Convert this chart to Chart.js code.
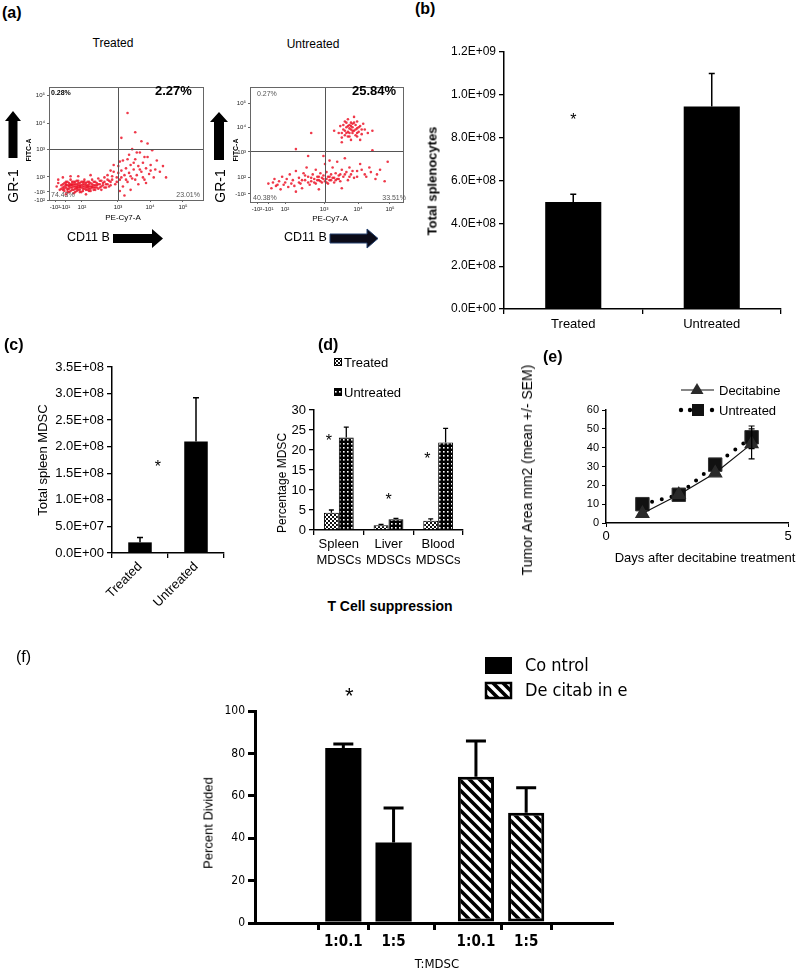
<!DOCTYPE html>
<html><head><meta charset="utf-8">
<script src="https://cdn.jsdelivr.net/npm/chart.js@4.4.0/dist/chart.umd.min.js"></script>
<style>
body{margin:0;background:#fff;}
#root{position:relative;width:800px;height:970px;overflow:hidden;font-family:'Liberation Sans',Arial,sans-serif;color:#000;background:#fff;}
.abs{position:absolute;white-space:nowrap;line-height:1;}
canvas{position:absolute;}
</style></head><body><div id="root">
<svg style="position:absolute;left:0;top:0" width="800" height="260">
  <polygon points="13,111 21,121 17.5,121 17.5,158 8.5,158 8.5,121 5,121" fill="#000"/>
  <polygon points="219,112 228,122 224,122 224,160 214,160 214,122 210,122" fill="#000"/>
  <polygon points="113,234 152,234 152,229 163,238.5 152,248 152,243 113,243" fill="#000"/>
  <polygon points="330,234 367,234 367,229 378,238.5 367,248 367,243 330,243" fill="#0b0b18" stroke="#24406e" stroke-width="1"/>
</svg>
</div>
<script>
// ---------------- DATA ----------------
// (a) flow cytometry: channel coordinates (0-100 of plot box)
const flowXTickLabels = ['-10²','-10¹','10²','10³','10⁴','10⁵'];
const flowYTickLabelsTreated = ['10⁵','10⁴','10³','10²','-10¹','-10²'];
const flowYTickLabelsUntreated = ['10⁵','10⁴','10³','10²','-10¹'];
const flowXTicksTreated = [3.9,10.4,21.4,44.8,65.6,87];
const flowYTicksTreated = [92.9,68.1,45.1,20.4,7.1,0];
const flowXTicksUntreated = [4.6,11.8,22.9,48.4,70.6,91.5];
const flowYTicksUntreated = [86,65.2,43.5,21.7,7];
const flowGateTreated = {x:44.8, y:45.1};
const flowGateUntreated = {x:49, y:44.3};
const flowQuadTreated = ['0.28%','2.27%','74.43%','23.01%'];
const flowQuadUntreated = ['0.27%','25.84%','40.38%','33.51%'];
const flowTreatedPoints = [
[8,10],[9,14],[10,8],[10,12],[11,16],[12,10],[12,13],[13,7],[13,15],[14,11],[14,18],[15,9],[15,13],[16,6],[16,12],[16,16],[17,10],[17,14],[18,8],[18,12],[18,17],[19,11],[19,15],[20,9],[20,13],[21,7],[21,11],[21,16],[22,10],[22,14],[23,12],[23,18],[24,9],[24,15],[25,11],[25,13],[26,8],[26,16],[27,12],[27,10],[28,14],[28,18],[29,9],[29,13],[30,11],[30,16],[31,13],[32,10],[32,19],[33,14],[34,12],[34,17],[35,15],[36,11],[36,20],[37,14],[38,18],[39,12],[40,16],[41,21],
[9,11],[11,13],[13,12],[15,11],[17,12],[19,13],[20,11],[22,12],[24,13],[26,12],[14,14],[18,10],[23,10],[28,11],[31,15],[12,9],[16,14],[20,15],[25,9],[30,13],
[8,13],[9,9],[10,15],[11,11],[12,7],[12,16],[13,10],[14,8],[14,13],[15,16],[16,9],[17,7],[17,16],[18,14],[19,9],[19,17],[20,7],[21,13],[22,8],[22,16],[23,14],[24,11],[25,16],[26,10],[26,14],[27,8],[27,15],[28,12],[29,11],[29,16],[30,9],[31,11],[32,14],[33,11],[33,17],[34,9],[35,13],[36,16],[37,11],[38,14],[39,17],[40,13],[10,10],[11,14],[13,13],[15,14],[18,11],[20,12],[23,16],[25,12],
[5,12],[6,15],[7,9],[6,18],[9,20],[11,5],[14,21],[19,21],[24,5],[27,22],
[42,25],[43,14],[44,20],[45,30],[46,18],[47,26],[48,12],[48,35],[49,22],[50,28],[51,16],[52,40],[52,24],[53,31],[54,19],[55,27],[56,36],[57,22],[58,14],[58,30],[59,42],[60,25],[61,33],[62,18],[63,28],[64,38],[65,23],[66,31],[67,44],[68,20],[69,27],[70,35],[72,25],[74,30],[76,20],[53,9],[46,8],[49,4],
[38,22],[40,26],[41,18],[42,31],[44,16],[45,24],[46,34],[47,20],[50,18],[51,36],[53,21],[55,33],[56,18],[59,27],[61,20],[62,38],[63,15],[66,26],[57,42],[54,45],
[51,77],[56,60],[60,52],[47,55],[64,50]
];
const flowUntreatedPoints = [
[58,60],[59,66],[60,56],[61,63],[62,70],[62,58],[63,65],[64,61],[64,72],[65,57],[65,67],[66,63],[66,69],[67,60],[67,65],[68,62],[68,74],[69,58],[69,67],[70,64],[70,70],[71,61],[72,66],[73,59],[74,68],[75,63],[77,60],[60,52],[66,54],[72,54],[80,62],[55,62],[65,64],[67,68],[63,60],[70,60],
[61,67],[62,62],[63,69],[64,66],[65,60],[66,66],[67,62],[68,69],[69,63],[71,65],[64,57],[70,57],[73,63],[60,60],
[12,16],[14,12],[16,20],[18,15],[20,11],[21,22],[23,17],[25,13],[26,24],[28,19],[29,14],[30,27],[32,21],[33,16],[34,12],[35,25],[36,19],[37,30],[38,22],[39,15],[40,18],[41,24],[42,20],[43,16],[43,28],[44,22],[45,19],[46,25],[47,17],[47,21],[48,23],[49,18],[49,33],[50,20],[50,26],[51,16],[52,22],[52,19],[53,24],[54,21],[54,30],[55,17],[56,25],[57,20],[57,35],[58,23],[59,18],[60,28],[61,22],[62,38],[63,26],[64,19],[65,30],[66,24],[68,21],[70,27],[72,33],[75,24],[78,30],[82,20],[85,28],[88,18],[60,12],[45,11],[30,9],[38,40],[52,36],[48,40],
[42,17],[44,19],[45,22],[46,18],[48,20],[50,17],[51,22],[53,19],[55,21],[56,19],[58,20],[59,24],[40,21],[38,17],[36,23],[34,19],[32,17],[27,16],[24,20],[22,15],[19,18],[17,14],[15,17],[62,24],[65,22],[67,27],[70,22],[73,28],[76,22],[79,26],[83,24],
[80,45],[90,35],[40,60],[30,46]
];
// (b) total splenocytes
const splenoGroups = ['Treated','Untreated'];
const splenoMean = [5.0e8, 9.45e8];
const splenoSEM = [0.36e8, 1.55e8];
const splenoStars = [{x:0, y:9.0e8}];
// (c) total spleen MDSC
const mdscGroups = ['Treated','Untreated'];
const mdscMean = [2.0e7, 2.1e8];
const mdscSEM = [0.9e7, 8.2e7];
const mdscStars = [{x:0.32, y:1.69e8}];
// (d) percentage MDSC
const tissueLabels = [['Spleen','MDSCs'],['Liver','MDSCs'],['Blood','MDSCs']];
const pctSeries = ['Treated','Untreated'];
const pctTreated = [4.3,1.2,2.3];
const pctTreatedSEM = [0.7,0.2,0.5];
const pctUntreated = [23.1,2.7,21.9];
const pctUntreatedSEM = [2.6,0.2,3.5];
const pctStars = [{x:-0.2,y:23},{x:1,y:8.3},{x:1.78,y:18.7}];
// (e) tumor area
const areaSeries = ['Decitabine','Untreated'];
const days = [1,2,3,4];
const areaDecitabine = [5,15,26.5,42];
const areaDecitabineSEM = [0,0,0,8];
const areaUntreated = [10,15,31,45.5];
const areaUntreatedSEM = [0,0,0,6];
// (f) percent divided
const dividedGroups = ['Co ntrol','De citab in e'];
const ratioLabels = ['1:0.1','1:5'];
const dividedControl = [82.5,38];
const dividedControlSEM = [1.9,16.2];
const dividedDecitabine = [69,52];
const dividedDecitabineSEM = [16.8,11.8];
const dividedStars = [{x:0.12, y:109}];

// ---------------- SETUP ----------------
const FONT = "'Liberation Sans', Arial, Helvetica, sans-serif";
const NARROW = "'Liberation Sans Narrow','DejaVu Sans Condensed','Liberation Sans',Arial,sans-serif";
Chart.defaults.font.family = FONT;
Chart.defaults.color = '#000';
Chart.defaults.animation = false;
Chart.defaults.responsive = false;
Chart.defaults.maintainAspectRatio = false;
Chart.defaults.devicePixelRatio = 1;
Chart.defaults.plugins.legend.display = false;
Chart.defaults.plugins.tooltip.enabled = false;

const root = document.getElementById('root');
function mkCanvas(left, top, w, h){
  const c = document.createElement('canvas');
  c.width = w; c.height = h; c.style.left = left+'px'; c.style.top = top+'px';
  c.style.width = w+'px'; c.style.height = h+'px';
  root.appendChild(c); return c;
}
function label(txt, x, y, o={}){
  const d = document.createElement('div'); d.className='abs'; d.textContent = txt;
  const size = o.size||13;
  d.style.font = `${o.bold?'bold ':''}${size}px ${o.family||FONT}`;
  d.style.lineHeight = '1';
  d.style.left = x+'px'; d.style.top = y+'px';
  const tx = o.align==='center'?'-50%':(o.align==='right'?'-100%':'0');
  d.style.transform = `translate(${tx},-50%)` + (o.rot?` rotate(${o.rot}deg)`:'');
  if(o.color) d.style.color = o.color;
  d.style.zIndex = 5;
  root.appendChild(d);
}
const yFit = w => s => { s.width = w; s.paddingTop = 0; s.paddingBottom = 0; };
const xFit = h => s => { s.height = h; s.paddingLeft = 0; s.paddingRight = 0; };
function sci(v){
  if (Math.abs(v) < 1) return '0.0E+00';
  const e = Math.floor(Math.log10(Math.abs(v)) + 1e-9);
  const m = v/Math.pow(10,e);
  return m.toFixed(1)+'E+'+String(e).padStart(2,'0');
}
function pat(size, draw){
  const c = document.createElement('canvas'); c.width = c.height = size;
  const g = c.getContext('2d'); draw(g, size);
  return g.createPattern(c, 'repeat');
}
const checkerPat = pat(4,(g)=>{g.fillStyle='#fff';g.fillRect(0,0,4,4);g.fillStyle='#111';g.fillRect(0,0,2,2);g.fillRect(2,2,2,2);});
const dotsPat = pat(4,(g)=>{g.fillStyle='#000';g.fillRect(0,0,4,4);g.fillStyle='#fff';g.fillRect(1,1,1.6,1.6);});
const stripePat = pat(10,(g)=>{g.fillStyle='#fff';g.fillRect(0,0,10,10);g.strokeStyle='#000';g.lineWidth=3.6;g.beginPath();
  g.moveTo(-5,-5);g.lineTo(15,15);g.moveTo(-5,5);g.lineTo(5,15);g.moveTo(5,-5);g.lineTo(15,5);g.stroke();});

// ---------------- PLUGINS ----------------
const errPlugin = {
  id:'errbars',
  afterDatasetsDraw(chart, args, opts){
    if(!opts || !opts.sets) return;
    const ctx = chart.ctx;
    opts.sets.forEach(s=>{
      const meta = chart.getDatasetMeta(s.dataset);
      const ys = chart.scales[meta.yAxisID];
      ctx.save(); ctx.strokeStyle = s.color||'#000'; ctx.lineWidth = s.lineWidth||1.5; ctx.lineCap='butt';
      meta.data.forEach((el,i)=>{
        const err = s.errors[i]; if(!err) return;
        const raw = chart.data.datasets[s.dataset].data[i];
        const val = (typeof raw==='object') ? raw.y : raw;
        const x = el.x;
        const yT = ys.getPixelForValue(val+err);
        const yB = s.both ? ys.getPixelForValue(val-err) : ys.getPixelForValue(val);
        ctx.beginPath(); ctx.moveTo(x,yB); ctx.lineTo(x,yT);
        ctx.moveTo(x-s.cap/2,yT); ctx.lineTo(x+s.cap/2,yT);
        if(s.both){ ctx.moveTo(x-s.cap/2,yB); ctx.lineTo(x+s.cap/2,yB); }
        ctx.stroke();
      });
      ctx.restore();
    });
  }
};
const starPlugin = {
  id:'stars',
  afterDraw(chart, args, opts){
    if(!opts || !opts.items) return;
    const ctx = chart.ctx; ctx.save();
    const size = opts.size||16;
    ctx.font = `${size}px ${FONT}`; ctx.textAlign='center'; ctx.textBaseline='middle'; ctx.fillStyle='#000';
    opts.items.forEach(it=>{
      const x = chart.scales.x.getPixelForValue(it.x);
      const y = chart.scales.y.getPixelForValue(it.y);
      ctx.fillText('*', x, y + size*0.25);
    });
    ctx.restore();
  }
};
const gatePlugin = {
  id:'gates',
  afterDatasetsDraw(chart, args, opts){
    if(!opts || opts.x==null) return;
    const {ctx, chartArea:a} = chart;
    const x = Math.round(chart.scales.x.getPixelForValue(opts.x))+0.5;
    const y = Math.round(chart.scales.y.getPixelForValue(opts.y))+0.5;
    ctx.save(); ctx.strokeStyle='#555'; ctx.lineWidth=1;
    ctx.beginPath(); ctx.moveTo(x,a.top); ctx.lineTo(x,a.bottom); ctx.moveTo(a.left,y); ctx.lineTo(a.right,y); ctx.stroke();
    ctx.strokeStyle='#666';
    ctx.strokeRect(Math.round(a.left)+0.5, Math.round(a.top)+0.5, Math.round(a.right-a.left), Math.round(a.bottom-a.top));
    ctx.restore();
  }
};
Chart.register(errPlugin, starPlugin, gatePlugin);

const blackAxis = (extra)=>Object.assign({
  grid:{display:true, drawOnChartArea:false, drawTicks:true, tickLength:5, color:'#000', lineWidth:1.3},
  border:{display:true, color:'#000', width:1.5}
}, extra);

// ---------------- (a) FLOW PLOTS ----------------
function flowChart(canvas, points, xt, yt, ylabels, gate, pad, yw, xh){
  return new Chart(canvas, {
    type:'scatter',
    data:{datasets:[{data: points.map(p=>({x:p[0], y:p[1]})), pointRadius:1.3, pointBackgroundColor:'rgba(236,22,42,0.85)', pointBorderWidth:0}]},
    options:{
      layout:{padding:pad},
      scales:{
        x:{type:'linear', min:0, max:100,
           afterBuildTicks:s=>{ s.ticks = xt.map(v=>({value:v})); },
           ticks:{callback:(v,i)=>flowXTickLabels[i], font:{size:6}, padding:2, maxRotation:0, autoSkip:false, color:'#222'},
           grid:{drawOnChartArea:false, tickLength:2, color:'#666'}, border:{color:'#666'}, afterFit:xFit(xh)},
        y:{type:'linear', min:0, max:100,
           afterBuildTicks:s=>{ s.ticks = yt.map(v=>({value:v})); },
           ticks:{callback:(v,i)=>ylabels[i], font:{size:6}, padding:2, autoSkip:false, color:'#222'},
           grid:{drawOnChartArea:false, tickLength:2, color:'#666'}, border:{color:'#666'}, afterFit:yFit(yw)}
      },
      plugins:{gates:gate}
    }
  });
}
flowChart(mkCanvas(0,80,210,150), flowTreatedPoints, flowXTicksTreated, flowYTicksTreated, flowYTickLabelsTreated, flowGateTreated, {left:0,top:7,right:7,bottom:0}, 49, 30);
flowChart(mkCanvas(215,80,195,150), flowUntreatedPoints, flowXTicksUntreated, flowYTicksUntreated, flowYTickLabelsUntreated, flowGateUntreated, {left:0,top:7,right:7,bottom:0}, 35, 28);

// ---------------- (b) ----------------
new Chart(mkCanvas(400,30,400,310), {
  type:'bar',
  data:{labels:splenoGroups, datasets:[{data:splenoMean, backgroundColor:'#000', barPercentage:0.405, categoryPercentage:1}]},
  options:{
    layout:{padding:{left:0,top:22,right:19,bottom:0}},
    scales:{
      x: blackAxis({ticks:{font:{size:13}, padding:3}, afterFit:xFit(31)}),
      y: blackAxis({min:0, max:1.2e9, ticks:{stepSize:2e8, callback:sci, font:{size:12}, padding:3}, afterFit:yFit(104)})
    },
    plugins:{errbars:{sets:[{dataset:0, errors:splenoSEM, cap:6, lineWidth:1.5}]}, stars:{size:16, items:splenoStars}}
  }
});

// ---------------- (c) ----------------
new Chart(mkCanvas(0,350,250,270), {
  type:'bar',
  data:{labels:mdscGroups, datasets:[{data:mdscMean, backgroundColor:'#000', barPercentage:0.42, categoryPercentage:1}]},
  options:{
    layout:{padding:{left:0,top:17,right:26,bottom:0}},
    scales:{
      x: blackAxis({ticks:{font:{size:13}, padding:1, minRotation:45, maxRotation:45}, afterFit:xFit(67)}),
      y: blackAxis({min:0, max:3.5e8, ticks:{stepSize:5e7, callback:sci, font:{size:13}, padding:3}, afterFit:yFit(112)})
    },
    plugins:{errbars:{sets:[{dataset:0, errors:mdscSEM, cap:6, lineWidth:1.5}]}, stars:{size:16, items:mdscStars}}
  }
});

// ---------------- (d) ----------------
new Chart(mkCanvas(250,350,230,225), {
  type:'bar',
  data:{labels:tissueLabels, datasets:[
    {label:pctSeries[0], data:pctTreated, backgroundColor:checkerPat, borderColor:'#000', borderWidth:1, categoryPercentage:0.6, barPercentage:1},
    {label:pctSeries[1], data:pctUntreated, backgroundColor:dotsPat, borderColor:'#000', borderWidth:1, categoryPercentage:0.6, barPercentage:1}
  ]},
  options:{
    layout:{padding:{left:0,top:60,right:17,bottom:0}},
    scales:{
      x: blackAxis({ticks:{font:{size:13}, padding:2, maxRotation:0, minRotation:0, autoSkip:false}, afterFit:xFit(45)}),
      y: blackAxis({min:0, max:30, ticks:{stepSize:5, font:{size:13}, padding:3}, afterFit:yFit(64)})
    },
    plugins:{errbars:{sets:[{dataset:0, errors:pctTreatedSEM, cap:5, lineWidth:1.3},{dataset:1, errors:pctUntreatedSEM, cap:5, lineWidth:1.3}]}, stars:{size:16, items:pctStars}}
  },
  plugins:[{id:'legD', afterDraw(c){
    const g=c.ctx; g.save(); g.font=`13px ${FONT}`; g.textBaseline='middle'; g.fillStyle='#000';
    [[checkerPat,12],[dotsPat,42]].forEach((it,i)=>{
      g.fillStyle=it[0]; g.fillRect(84,it[1]-4,7,7); g.strokeStyle='#000'; g.lineWidth=1; g.strokeRect(84.5,it[1]-3.5,7,7);
      g.fillStyle='#000'; g.fillText(pctSeries[i], 94, it[1]+1);
    });
    g.restore();
  }}]
});

// ---------------- (e) ----------------
new Chart(mkCanvas(520,370,280,205), {
  type:'line',
  data:{datasets:[
    {label:areaSeries[0], data:days.map((d,i)=>({x:d,y:areaDecitabine[i]})), borderColor:'#111', borderWidth:1.2,
     pointStyle:'triangle', pointRadius:7.5, pointBackgroundColor:'#2a2a2a', pointBorderColor:'#2a2a2a', tension:0},
    {label:areaSeries[1], data:days.map((d,i)=>({x:d,y:areaUntreated[i]})), borderColor:'#000', borderWidth:4, borderDash:[0,10], borderCapStyle:'round',
     pointStyle:'rect', pointRadius:9.5, pointBackgroundColor:'#111', pointBorderColor:'#333', pointBorderWidth:1, tension:0}
  ]},
  options:{
    layout:{padding:{left:0,top:40,right:12,bottom:0}},
    scales:{
      x: blackAxis({type:'linear', min:0, max:5, ticks:{stepSize:5, font:{size:13}, padding:2}, grid:{drawOnChartArea:false, tickLength:4, color:'#000'}, afterFit:xFit(52)}),
      y: blackAxis({min:0, max:60, ticks:{stepSize:10, font:{size:11}, padding:3}, grid:{drawOnChartArea:false, tickLength:4, color:'#000'}, afterFit:yFit(86)})
    },
    plugins:{errbars:{sets:[{dataset:0, errors:areaDecitabineSEM, cap:6, lineWidth:1.2, both:true},{dataset:1, errors:areaUntreatedSEM, cap:6, lineWidth:1.2, both:true}]}}
  },
  plugins:[{id:'legE', afterDraw(c){
    const g=c.ctx; g.save(); g.font=`13px ${FONT}`; g.textBaseline='middle'; g.fillStyle='#000';
    g.strokeStyle='#111'; g.lineWidth=1.2; g.beginPath(); g.moveTo(161,20); g.lineTo(194,20); g.stroke();
    g.fillStyle='#2a2a2a'; g.beginPath(); g.moveTo(177,13); g.lineTo(183.5,24); g.lineTo(170.5,24); g.closePath(); g.fill();
    g.fillStyle='#000'; g.fillText(areaSeries[0], 199, 21);
    [161,170,192].forEach(x=>{g.beginPath(); g.arc(x,40,2.2,0,Math.PI*2); g.fill();});
    g.fillStyle='#111'; g.fillRect(172,34,12,12);
    g.fillStyle='#000'; g.fillText(areaSeries[1], 199, 41);
    g.restore();
  }}]
});

// ---------------- (f) ----------------
const GROUP_STEP = 2.64;
new Chart(mkCanvas(200,640,440,330), {
  type:'bar',
  data:{datasets:[
    {label:dividedGroups[0], data:dividedControl.map((v,i)=>({x:i, y:v})), backgroundColor:'#000', borderWidth:0, grouped:false, categoryPercentage:1, barPercentage:0.72},
    {label:dividedGroups[1], data:dividedDecitabine.map((v,i)=>({x:GROUP_STEP+i, y:v})), backgroundColor:stripePat, borderColor:'#000', borderWidth:3, borderSkipped:false, grouped:false, categoryPercentage:1, barPercentage:0.72}
  ]},
  options:{
    layout:{padding:{left:0,top:71,right:28,bottom:0}},
    scales:{
      x:{type:'linear', min:-0.87, max:4.46,
         afterBuildTicks:s=>{ s.ticks = [0,1,GROUP_STEP,GROUP_STEP+1].map(v=>({value:v})); },
         ticks:{callback:(v,i)=>ratioLabels[i%2], font:{size:15, weight:'bold', family:NARROW}, padding:3, autoSkip:false, maxRotation:0},
         grid:{drawOnChartArea:false, tickLength:7, color:'#000', lineWidth:3}, border:{color:'#000', width:3}, afterFit:xFit(47)},
      y:{min:0, max:100, ticks:{stepSize:20, font:{size:12, family:NARROW}, padding:3},
         grid:{drawOnChartArea:false, tickLength:7, color:'#000', lineWidth:3}, border:{color:'#000', width:3}, afterFit:yFit(55)}
    },
    plugins:{errbars:{sets:[{dataset:0, errors:dividedControlSEM, cap:20, lineWidth:3},{dataset:1, errors:dividedDecitabineSEM, cap:20, lineWidth:3}]}, stars:{size:22, items:dividedStars}}
  },
  plugins:[{id:'legF', afterDraw(c){
    const g=c.ctx; g.save(); g.font=`18px ${NARROW}`; g.textBaseline='middle';
    g.fillStyle='#000'; g.fillRect(285,17,27,17);
    g.fillStyle=stripePat; g.fillRect(285,42,27,17); g.strokeStyle='#000'; g.lineWidth=2.5; g.strokeRect(286,43,25,15);
    g.fillStyle='#000'; g.fillText(dividedGroups[0], 325, 26); g.fillText(dividedGroups[1], 325, 51);
    g.restore();
  }}]
});

// ---------------- TEXT ----------------
label('(a)', 2, 13, {size:16, bold:true});
label('Treated', 113, 43, {size:12, align:'center'});
label('Untreated', 313, 44, {size:12, align:'center'});
label(flowQuadTreated[0], 51, 92, {size:7, bold:true});
label(flowQuadTreated[1], 155, 90, {size:13, bold:true});
label(flowQuadTreated[2], 51, 194, {size:7, color:'#555'});
label(flowQuadTreated[3], 200, 194, {size:7, color:'#555', align:'right'});
label(flowQuadUntreated[0], 257, 93, {size:7, color:'#555'});
label(flowQuadUntreated[1], 352, 90, {size:13, bold:true});
label(flowQuadUntreated[2], 253, 197, {size:7, color:'#555'});
label(flowQuadUntreated[3], 406, 197, {size:7, color:'#555', align:'right'});
label('FITC-A', 28, 150, {size:7, bold:true, align:'center', rot:-90});
label('FITC-A', 235, 150, {size:7, bold:true, align:'center', rot:-90});
label('PE-Cy7-A', 123, 218, {size:8, align:'center'});
label('PE-Cy7-A', 330, 219, {size:8, align:'center'});
label('GR-1', 13, 186, {size:14, align:'center', rot:-90});
label('GR-1', 220, 186, {size:14, align:'center', rot:-90});
label('CD11 B', 67, 237, {size:12.5});
label('CD11 B', 284, 237, {size:12.5});
label('(b)', 415, 9, {size:16, bold:true});
label('Total splenocytes', 432, 181, {size:13, bold:true, align:'center', rot:-90});
label('(c)', 4, 345, {size:16, bold:true});
label('Total spleen MDSC', 42, 460, {size:13, align:'center', rot:-90});
label('(d)', 318, 345, {size:16, bold:true});
label('Percentage MDSC', 282, 483, {size:12, align:'center', rot:-90});
label('T Cell suppression', 390, 606, {size:14, bold:true, align:'center'});
label('(e)', 543, 357, {size:16, bold:true});
label('Tumor Area mm2 (mean +/- SEM)', 527, 470, {size:14, align:'center', rot:-90});
label('Days after decitabine treatment', 705, 557, {size:13, align:'center'});
label('(f)', 16, 657, {size:16});
label('Percent Divided', 208, 823, {size:13, align:'center', rot:-90});
label('T:MDSC', 437, 963, {size:13, align:'center', family:NARROW});
</script>
</body></html>
